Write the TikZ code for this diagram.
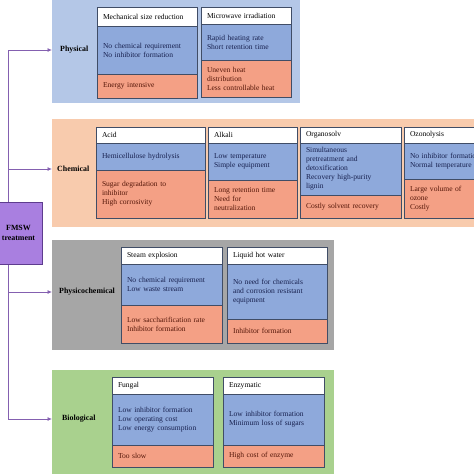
\documentclass[tikz,border=0pt]{standalone}
\usepackage{fontspec}
\setmainfont{Liberation Serif}
\usetikzlibrary{arrows.meta}
\definecolor{physbg}{HTML}{B4C7E7}
\definecolor{chembg}{HTML}{F8CBAD}
\definecolor{pcbg}{HTML}{A6A6A6}
\definecolor{biobg}{HTML}{A9D18E}
\definecolor{cellblue}{HTML}{8EA9DB}
\definecolor{cellred}{HTML}{F4A085}
\definecolor{cellline}{HTML}{404D66}
\definecolor{bluetext}{HTML}{18214F}
\definecolor{redtext}{HTML}{551709}
\definecolor{rootfill}{HTML}{A97FE0}
\definecolor{rootline}{HTML}{5E3C8E}
\definecolor{connc}{HTML}{8460B0}
\newcommand\cellnode[7]{%
  \pgfmathsetmacro\cellw{#4-12}%
  \node[cell,#6,minimum width=#4pt,minimum height=#5pt,text width=\cellw pt] (#1) at (#2,#3) {#7};}
\begin{document}
\begin{tikzpicture}[x=1pt,y=-1pt,
  panel/.style={rectangle,draw=none,anchor=north west,inner sep=0pt,outer sep=0pt},
  cell/.style={rectangle,draw=cellline,line width=0.8pt,anchor=north west,inner xsep=6pt,inner ysep=0pt,outer sep=0pt,align=left,font=\fontsize{7.55}{9}\selectfont},
  hdr/.style={fill=white,text=black},
  pro/.style={fill=cellblue,text=bluetext},
  con/.style={fill=cellred,text=redtext},
  lab/.style={anchor=west,inner sep=0pt,font=\fontsize{7.9}{9}\selectfont\bfseries,text=black},
  conn/.style={draw=connc,line width=0.8pt},
  arr/.style={conn,-{Latex[length=4.5pt,width=4pt]}},
  rootbox/.style={rectangle,draw=rootline,fill=rootfill,line width=0.8pt,anchor=north west,inner sep=0pt,outer sep=0pt,align=center,font=\fontsize{7.9}{10.5}\selectfont\bfseries}
]
\useasboundingbox (0,0) rectangle (474,474);

% panels
\node[panel,fill=physbg,minimum width=248pt,minimum height=103pt] (physpanel) at (52,0) {};
\node[panel,fill=chembg,minimum width=430pt,minimum height=108pt] (chempanel) at (52,119) {};
\node[panel,fill=pcbg,minimum width=282pt,minimum height=110pt] (pcpanel) at (52,240) {};
\node[panel,fill=biobg,minimum width=282pt,minimum height=106pt] (biopanel) at (52,370) {};

% Physical
\cellnode{mechh}{97}{7}{100}{19}{hdr}{Mechanical size reduction}
\cellnode{mechp}{97}{26}{100}{48}{pro}{No chemical requirement\\No inhibitor formation}
\cellnode{mechc}{97}{74}{100}{24}{con}{Energy intensive}
\cellnode{microh}{201}{7}{90}{17}{hdr}{Microwave irradiation}
\cellnode{microp}{201}{24}{90}{36}{pro}{Rapid heating rate\\Short retention time}
\cellnode{microc}{201}{60}{90}{37}{con}{Uneven heat\\distribution\\Less controllable heat}

% Chemical
\cellnode{acidh}{96}{127}{109}{16}{hdr}{Acid}
\cellnode{acidp}{96}{143}{109}{27}{pro}{Hemicellulose hydrolysis}
\cellnode{acidc}{96}{170}{109}{48}{con}{Sugar degradation to\\inhibitor\\High corrosivity}
\cellnode{alkh}{208}{127}{89}{16}{hdr}{Alkali}
\cellnode{alkp}{208}{143}{89}{37}{pro}{Low temperature\\Simple equipment}
\cellnode{alkc}{208}{180}{89}{38}{con}{Long retention time\\Need for\\neutralization}
\cellnode{orgh}{300}{127}{101}{16}{hdr}{Organosolv}
\cellnode{orgp}{300}{143}{101}{52}{pro}{Simultaneous\\pretreatment and\\detoxification\\Recovery high-purity\\lignin}
\cellnode{orgc}{300}{195}{101}{23}{con}{Costly solvent recovery}
\cellnode{ozoh}{404}{127}{90}{16}{hdr}{Ozonolysis}
\cellnode{ozop}{404}{143}{90}{36}{pro}{No inhibitor formation\\Normal temperature}
\cellnode{ozoc}{404}{179}{90}{39}{con}{Large volume of\\ozone\\Costly}

% Physicochemical
\cellnode{steamh}{121}{247}{101}{17}{hdr}{Steam explosion}
\cellnode{steamp}{121}{264}{101}{41}{pro}{No chemical requirement\\Low waste stream}
\cellnode{steamc}{121}{305}{101}{38}{con}{Low saccharification rate\\Inhibitor formation}
\cellnode{lhwh}{227}{247}{100}{17}{hdr}{Liquid hot water}
\cellnode{lhwp}{227}{264}{100}{55}{pro}{No need for chemicals\\and corrosion resistant\\equipment}
\cellnode{lhwc}{227}{319}{100}{24}{con}{Inhibitor formation}

% Biological
\cellnode{fungh}{112}{377}{101}{17}{hdr}{Fungal}
\cellnode{fungp}{112}{394}{101}{51}{pro}{Low inhibitor formation\\Low operating cost\\Low energy consumption}
\cellnode{fungc}{112}{445}{101}{22}{con}{Too slow}
\cellnode{enzh}{223}{377}{101}{17}{hdr}{Enzymatic}
\cellnode{enzp}{223}{394}{101}{51}{pro}{Low inhibitor formation\\Minimum loss of sugars\\[9pt]}
\cellnode{enzc}{223}{445}{101}{22}{con}{High cost of enzyme}

% labels
\node[lab] (physlab) at (60,50) {Physical};
\node[lab] (chemlab) at (57,169) {Chemical};
\node[lab] (pclab) at (59,292) {Physicochemical};
\node[lab] (biolab) at (62,419) {Biological};

% connectors
\coordinate (ttop) at (8,50);
\coordinate (tchem) at (8,169);
\coordinate (tpc) at (8,292);
\coordinate (tbot) at (8,419);
\draw[conn] (ttop) -- (tbot);
\draw[arr] (ttop) -- (physpanel.west |- ttop);
\draw[arr] (tchem) -- (chempanel.west |- tchem);
\draw[arr] (tpc) -- (pcpanel.west |- tpc);
\draw[arr] (tbot) -- (biopanel.west |- tbot);

% root
\node[rootbox,minimum width=47pt,minimum height=62pt] (root) at (-5,202) {FMSW\\treatment};
\end{tikzpicture}
\end{document}
